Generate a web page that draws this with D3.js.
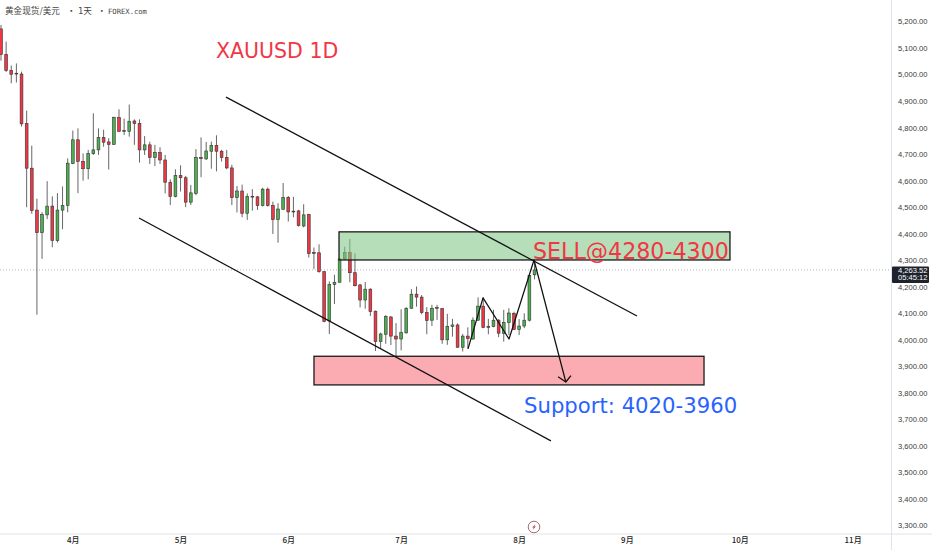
<!DOCTYPE html>
<html><head><meta charset="utf-8">
<script src="https://cdnjs.cloudflare.com/ajax/libs/d3/7.8.5/d3.min.js"></script>
<style>html,body{margin:0;padding:0;background:#fff;overflow:hidden}svg{display:block}</style>
</head><body><svg id="c" width="932" height="550"></svg>
<script>
const opens=[5172,5076,5016,5002,5002,4815,4647,4489,4404,4471,4504,4374,4489,4507,4664,4754,4673,4645,4702,4716,4762,4746,4737,4838,4789,4786,
4825,4816,4716,4735,4688,4706,4678,4594,4540,4619,4611,4519,4552,4687,4682,4711,4733,4711,4687,4648,4536,4561,4477,4541,4539,4506,4568,4506,4453,4492,4537,4485,4486,4429,4472,
4329,4328,4257,4071,4208,4217,4305,4329,4253,4207,4150,4191,4108,3993,4021,4086,4014,4003,4026,4119,4172,4161,4103,4074,4122,4118,4000,4051,4056,3972,4014,4003,4074,4127,4050,4050,4074,4024,4065,4099,4039,4052,4074,4245];
const highs=[5187,5124,5034,5042,5011,4864,4732,4532,4481,4598,4541,4553,4578,4684,4789,4797,4703,4716,4854,4797,4792,4760,4841,4869,4834,4887,
4831,4831,4768,4747,4735,4726,4697,4605,4643,4658,4618,4584,4719,4763,4746,4747,4771,4716,4716,4660,4580,4585,4552,4568,4542,4573,4574,4521,4515,4591,4542,4539,4490,4511,4475,
4348,4360,4258,4220,4245,4307,4351,4380,4326,4211,4218,4194,4110,4027,4093,4090,4063,4115,4123,4191,4201,4169,4123,4132,4132,4119,4098,4079,4062,4022,4047,4085,4160,4160,4079,4113,4078,4113,4119,4106,4078,4100,4245,4301];
const lows=[5052,5010,4967,4970,4804,4500,4475,4095,4305,4455,4349,4367,4417,4481,4662,4553,4600,4605,4697,4697,4728,4642,4735,4784,4772,4766,
4735,4668,4697,4663,4655,4663,4552,4508,4537,4559,4500,4508,4545,4613,4678,4645,4635,4672,4643,4508,4480,4462,4452,4487,4490,4503,4502,4399,4366,4490,4446,4462,4427,4424,4310,
4267,4253,4066,4022,4135,4216,4301,4217,4201,4122,4117,4090,3958,3968,3985,3980,3937,3960,4024,4117,4125,4096,4021,4052,4075,3985,3981,4012,3970,3956,3968,4000,4071,4044,4021,4047,4010,3993,4018,4037,4018,4044,4069,4228];
const closes=[5076,5015,5001,5005,4814,4647,4487,4404,4472,4504,4375,4489,4507,4666,4754,4673,4645,4703,4716,4762,4745,4737,4839,4786,4786,4824,
4815,4716,4735,4688,4706,4678,4594,4540,4619,4611,4519,4554,4687,4683,4712,4732,4711,4687,4648,4536,4561,4477,4541,4539,4506,4568,4506,4453,4493,4537,4482,4482,4431,4471,4325,
4326,4257,4069,4208,4217,4305,4329,4253,4204,4150,4191,4107,3993,4022,4088,4014,4003,4027,4119,4172,4161,4103,4073,4119,4119,4000,4051,4056,3972,4014,4005,4074,4127,4046,4047,4074,4025,4065,4101,4039,4052,4074,4242,4263.52];

const priceTicks=[5200,5100,5000,4900,4800,4700,4600,4500,4400,4300,4200,4100,4000,3900,3800,3700,3600,3500,3400,3300];
const monthLabels=["4月","5月","6月","7月","8月","9月","10月","11月"];
const monthIndex=[14,35,56,78,101,122,144,166];

const channelUpper=[[43.86,4915],[123.98,4090]];
const channelLower=[[26.9,4459],[107.2,3619]];
const sellZone=[[65.89,4407],[142.1,4301]];
const supportZone=[[61.01,3938],[137.04,3830]];
const wave=[[91.03,3966],[93.96,4158],[99.03,4003],[103.9,4301],[110.1,3841]];
const arrowHead=[[108.6,3861],[110.1,3841],[111.1,3865]];
const lastPrice=4263.52;
const countdown="05:45:12";

const svg=d3.select("#c");
const x=d3.scaleLinear().domain([0,100]).range([1,514]);
const y=d3.scaleLinear().domain([3300,5200]).range([525.5,21.5]);
const paneW=891.5, paneH=534;
const fmt=d3.format(",.2f");
const RED="#f23645",GREEN="#4caf50",DARK="#333",WICK="#666";
const LATIN='"Liberation Sans",Arial,sans-serif';
const CJK='"Noto Sans CJK SC","Liberation Sans",sans-serif';

const plot=svg.append("g");
plot.append("line").attr("x1",0).attr("x2",paneW).attr("y1",y(lastPrice)).attr("y2",y(lastPrice))
  .attr("stroke","#b4b4b4").attr("stroke-width",1).attr("stroke-dasharray","1 2");

const bw=2.8;
const candles=plot.selectAll("g.k").data(opens.map((o,i)=>({i,o,h:highs[i],l:lows[i],c:closes[i]}))).join("g").attr("class","k");
candles.append("line").attr("x1",d=>x(d.i)).attr("x2",d=>x(d.i)).attr("y1",d=>y(d.h)).attr("y2",d=>y(d.l))
  .attr("stroke",WICK).attr("stroke-width",1);
candles.append("rect").attr("x",d=>x(d.i)-bw/2).attr("width",bw)
  .attr("y",d=>y(Math.max(d.o,d.c))).attr("height",d=>Math.max(0.8,Math.abs(y(d.o)-y(d.c))))
  .attr("fill",d=>d.c>=d.o?GREEN:RED).attr("stroke",DARK).attr("stroke-width",0.6);

function zone(z,fill){
  plot.append("rect").attr("x",x(z[0][0])).attr("y",y(z[0][1]))
    .attr("width",x(z[1][0])-x(z[0][0])).attr("height",y(z[1][1])-y(z[0][1]))
    .attr("fill",fill).attr("stroke","#1a1a1a").attr("stroke-width",1.3);
}
zone(sellZone,"rgba(129,199,132,0.58)");
zone(supportZone,"rgba(247,82,95,0.48)");

const ln=d3.line().x(d=>x(d[0])).y(d=>y(d[1]));
[channelUpper,channelLower,wave,arrowHead].forEach(p=>{
  plot.append("path").attr("d",ln(p)).attr("fill","none").attr("stroke","#111").attr("stroke-width",1.25).attr("stroke-linejoin","round");
});

plot.append("text").attr("x",216).attr("y",58).attr("font-family",'"DejaVu Sans"').attr("font-size",20.5).attr("fill","#f23645").text("XAUUSD 1D");
plot.append("text").attr("x",533).attr("y",258.5).attr("font-family",'"DejaVu Sans"').attr("font-size",22.2).attr("fill","#f23645").text("SELL@4280-4300");
plot.append("text").attr("x",524).attr("y",413).attr("font-family",'"DejaVu Sans"').attr("font-size",21.2).attr("fill","#2962ff").text("Support: 4020-3960");

const title=plot.append("text").attr("y",13.5).attr("fill","#444").attr("font-family",CJK).attr("font-size",8.6);
title.append("tspan").attr("x",5).text("黄金现货/美元");
title.append("tspan").attr("x",67).text("·");
title.append("tspan").attr("x",78).attr("font-family",'"DejaVu Sans Mono","Noto Sans CJK SC"').text("1天");
title.append("tspan").attr("x",97.5).text("·");
title.append("tspan").attr("x",108).attr("font-family",'"DejaVu Sans Mono"').attr("font-size",7.2).text("FOREX.com");

const mk=plot.append("g").attr("transform",`translate(${x(103.9)},527)`);
mk.append("circle").attr("r",5.8).attr("fill","#fff").attr("stroke","#a8686c").attr("stroke-width",1);
mk.append("path").attr("d","M1.4,-3 L-1.8,0.4 L-0.2,0.4 L-1.4,3 L1.8,-0.4 L0.2,-0.4 Z").attr("fill","#a8484c");

svg.append("line").attr("x1",paneW).attr("x2",paneW).attr("y1",0).attr("y2",550).attr("stroke","#e0e3eb");
svg.append("line").attr("x1",0).attr("x2",932).attr("y1",paneH).attr("y2",paneH).attr("stroke","#e0e3eb");

const ya=d3.axisRight(y).tickValues(priceTicks).tickSize(0).tickPadding(0).tickFormat(fmt);
const yg=svg.append("g").attr("transform","translate(898,0)").call(ya);
yg.select(".domain").remove();
yg.selectAll("text").attr("font-family",LATIN).attr("font-size",7.6).attr("fill","#3a3a3a");

const xa=d3.axisBottom(x).tickValues(monthIndex).tickSize(0).tickPadding(0).tickFormat((d,i)=>monthLabels[i]);
const xg=svg.append("g").attr("transform","translate(0,537)").call(xa);
xg.select(".domain").remove();
xg.selectAll("text").attr("font-family",CJK).attr("font-size",8).attr("font-weight",500).attr("fill","#222");

const ty=y(lastPrice);
svg.append("rect").attr("x",892).attr("y",ty-3.5).attr("width",37).attr("height",16.5).attr("fill","#1e222d").attr("rx",1);
svg.append("text").attr("x",898).attr("y",ty+3).attr("font-family",LATIN).attr("font-size",7.6).attr("fill","#fff").text(fmt(lastPrice));
svg.append("text").attr("x",898).attr("y",ty+10.5).attr("font-family",LATIN).attr("font-size",7.6).attr("fill","#fff").text(countdown);
</script></body></html>
